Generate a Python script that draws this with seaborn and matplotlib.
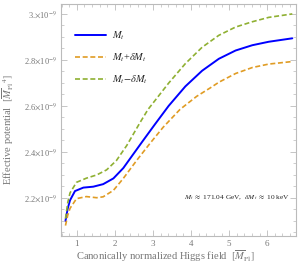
import matplotlib
matplotlib.use("Agg")
import matplotlib.pyplot as plt
import numpy as np
import pandas as pd
import seaborn as sns
from matplotlib.ticker import MultipleLocator

# field values [M_Pl] and potential values [1e-9 M_Pl^4]
x_blue = [0.70, 0.76, 0.82, 0.95, 1.17, 1.43, 1.69, 1.96, 2.22, 2.48, 2.75, 3.05,
          3.41, 3.85, 4.29, 4.73, 5.17, 5.61, 6.04, 6.66]
v_blue = [2.100, 2.155, 2.190, 2.230, 2.245, 2.249, 2.260, 2.285, 2.330, 2.390,
          2.452, 2.520, 2.600, 2.685, 2.753, 2.805, 2.841, 2.864, 2.879, 2.894]

x_plus = [0.70, 0.76, 0.82, 0.99, 1.25, 1.52, 1.69, 1.96, 2.22, 2.57, 2.92, 3.27,
          3.71, 4.15, 4.50, 4.73, 5.17, 5.61, 6.04, 6.66]
v_plus = [2.080, 2.125, 2.155, 2.197, 2.206, 2.201, 2.205, 2.233, 2.285, 2.363,
          2.437, 2.508, 2.585, 2.642, 2.678, 2.703, 2.741, 2.767, 2.782, 2.793]

x_minus = [0.70, 0.76, 0.82, 0.99, 1.25, 1.52, 1.78, 2.04, 2.31, 2.66, 2.87, 3.41,
           3.85, 4.29, 4.73, 5.17, 5.61, 6.04, 6.66]
v_minus = [2.110, 2.180, 2.222, 2.268, 2.286, 2.300, 2.322, 2.363, 2.428, 2.528,
           2.585, 2.699, 2.784, 2.855, 2.907, 2.943, 2.966, 2.985, 3.000]

labels = [r"$M_t$", r"$M_t$+$\delta M_t$", r"$M_t$$-$$\delta M_t$"]
colors = ["#0000ff", "#e09c24", "#8fb032"]
yticks = [2.2, 2.4, 2.6, 2.8, 3.0]
ytick_labels = [r"2.2$\times$10$^{-9}$", r"2.4$\times$10$^{-9}$",
                r"2.6$\times$10$^{-9}$", r"2.8$\times$10$^{-9}$",
                r"3.$\times$10$^{-9}$"]

sns.set_style("ticks")
plt.rcParams["font.family"] = ["Liberation Serif", "DejaVu Serif"]
plt.rcParams["mathtext.fontset"] = "stix"

fig = plt.figure(figsize=(3.0, 2.69), dpi=100)
ax = fig.add_axes([0.203, 0.123, 0.784, 0.862])

sns.lineplot(x=x_blue, y=v_blue, ax=ax, color=colors[0], lw=1.4, label=labels[0])
sns.lineplot(x=x_plus, y=v_plus, ax=ax, color=colors[1], lw=1.2, label=labels[1])
sns.lineplot(x=x_minus, y=v_minus, ax=ax, color=colors[2], lw=1.2, label=labels[2])
for ln in ax.lines[1:]:
    ln.set_dashes([3, 1.6])

ax.set_xlim(0.58, 6.76)
ax.set_ylim(2.035, 3.043)
ax.set_xticks([1, 2, 3, 4, 5, 6])
ax.set_yticks(yticks)
ax.set_yticklabels(ytick_labels)
ax.xaxis.set_minor_locator(MultipleLocator(0.2))
ax.yaxis.set_minor_locator(MultipleLocator(0.05))
ax.tick_params(which="both", direction="in", top=True, right=True,
               color="#bbbbbb", labelcolor="#777777", labelsize=6.5, pad=3)
ax.tick_params(which="major", length=4, width=0.6)
ax.tick_params(which="minor", length=2, width=0.5)
ax.tick_params(axis="y", labelsize=6)
for sp in ax.spines.values():
    sp.set_color("#bbbbbb")
    sp.set_linewidth(0.8)

ax.set_xlabel(r"Canonically normalized Higgs field  $[\overline{M}_{\rm Pl}]$",
              fontsize=7.6, color="#777777")
ax.set_ylabel(r"Effective potential  $[\overline{M}_{\rm Pl}{}^{4}]$",
              fontsize=7.6, color="#777777")
ax.xaxis.set_label_coords(0.443, -0.055)
ax.yaxis.set_label_coords(-0.19, 0.46)

ax.text(0.974, 0.165, r"$M_t$ $\approx$ 171.04 GeV,  $\delta M_t$ $\approx$ 10 keV",
        transform=ax.transAxes, ha="right", va="center", fontsize=5.3)

ax.legend(loc="upper left", bbox_to_anchor=(0.02, 0.93), frameon=False,
          fontsize=7.5, handlelength=3.0, labelspacing=0.9, handletextpad=0.6)

fig.savefig("out.png", dpi=100)
